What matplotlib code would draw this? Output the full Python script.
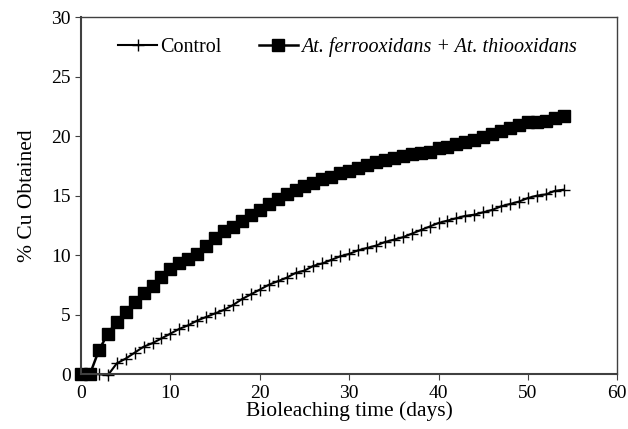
import numpy as np
import matplotlib.pyplot as plt

plt.rcParams['font.family'] = 'Liberation Serif'

# Data, one value per day
days = np.arange(0, 55)
control = [0, 0, 0, -0.1, 0.9, 1.3, 1.8, 2.3, 2.6, 3.0,
           3.4, 3.8, 4.1, 4.5, 4.8, 5.1, 5.4, 5.8, 6.3, 6.7,
           7.1, 7.5, 7.8, 8.1, 8.5, 8.7, 9.1, 9.3, 9.6, 9.9,
           10.1, 10.4, 10.6, 10.8, 11.1, 11.3, 11.5, 11.8, 12.1, 12.4,
           12.7, 12.9, 13.1, 13.3, 13.4, 13.6, 13.8, 14.1, 14.3, 14.5,
           14.8, 15.0, 15.1, 15.4, 15.5]
mixed = [0, 0, 2.0, 3.4, 4.4, 5.2, 6.1, 6.8, 7.4, 8.2,
         8.8, 9.3, 9.7, 10.1, 10.8, 11.4, 12.0, 12.4, 12.9, 13.4,
         13.8, 14.3, 14.7, 15.1, 15.5, 15.8, 16.1, 16.4, 16.6, 16.9,
         17.1, 17.3, 17.6, 17.8, 18.0, 18.2, 18.3, 18.5, 18.6, 18.7,
         19.0, 19.1, 19.3, 19.5, 19.7, 19.9, 20.2, 20.4, 20.7, 20.9,
         21.2, 21.2, 21.3, 21.5, 21.7]

fig = plt.figure(figsize=(6.28, 4.29), dpi=100)
ax = fig.add_axes([0.129, 0.128, 0.854, 0.832])

ax.plot(days, control, color='black', lw=1.5, marker='+', ms=9, mew=1.0,
        label='Control', clip_on=False)
ax.plot(days, mixed, color='black', lw=1.8, marker='s', ms=8.3,
        label='At. ferrooxidans + At. thiooxidans', clip_on=False)

ax.set_xlim(0, 60)
ax.set_ylim(0, 30)
ax.set_xticks(range(0, 61, 10))
ax.set_yticks(range(0, 31, 5))
ax.tick_params(direction='out', length=4, labelsize=14, color='#404040')
for s in ax.spines.values():
    s.set_color('#404040')
    s.set_linewidth(1.0)
ax.spines['left'].set_linewidth(1.5)
ax.spines['bottom'].set_linewidth(1.5)

ax.set_xlabel('Bioleaching time (days)', fontsize=15.5, labelpad=0)
ax.set_ylabel('% Cu Obtained', fontsize=15.5, labelpad=10)

leg = ax.legend(loc='upper left', ncol=2, frameon=False, fontsize=14.5,
                bbox_to_anchor=(0.036, 0.995), handlelength=1.9,
                handletextpad=0.15, columnspacing=1.9)
leg.get_texts()[1].set_fontstyle('italic')

fig.savefig('out.png', dpi=100)
